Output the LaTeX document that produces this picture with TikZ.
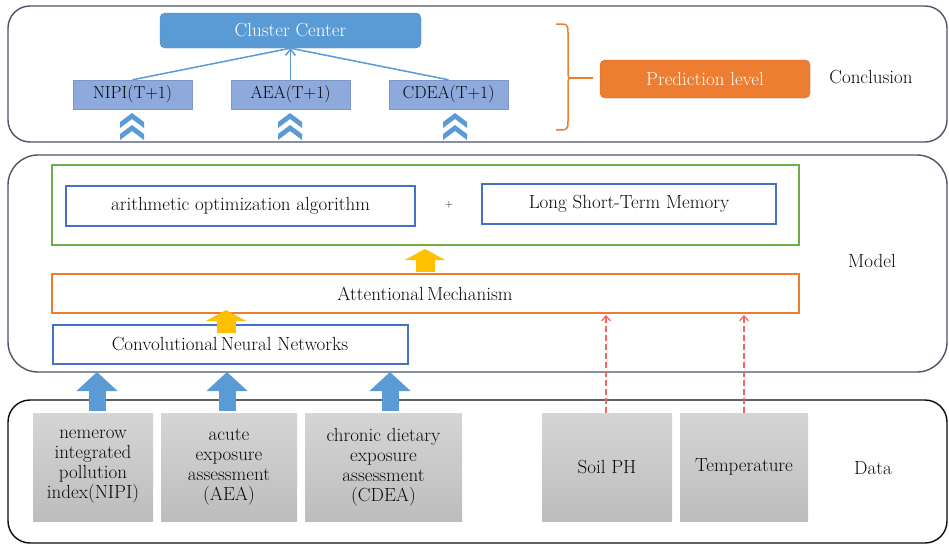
\documentclass[tikz,border=0pt]{standalone}
\usetikzlibrary{arrows.meta,calc}
\definecolor{cblue}{HTML}{5B9BD5}
\definecolor{lav}{HTML}{8EA9DB}
\definecolor{lavb}{HTML}{7F96C8}
\definecolor{corange}{HTML}{ED7D31}
\definecolor{cgreen}{HTML}{70AD47}
\definecolor{dblue}{HTML}{4472C4}
\definecolor{panel}{HTML}{4A5568}
\definecolor{cyellow}{HTML}{FFC000}
\definecolor{cred}{HTML}{F4655A}
\definecolor{txt}{HTML}{0A0A0A}
\begin{document}
\begin{tikzpicture}[x=1pt,y=-1pt,
  every node/.style={text=txt,font=\fontsize{19}{20}\selectfont},
  panelbox/.style={draw=panel,line width=1.4pt,rounded corners=22pt},
  predbox/.style={draw=lavb,fill=lav,minimum width=119pt,minimum height=29pt,inner sep=0pt,font=\fontsize{17.5}{20}\selectfont},
  bluebox/.style={draw=dblue,line width=2pt,fill=white,inner sep=0pt},
  databox/.style={top color=gray!33,bottom color=gray!52,draw=none,inner sep=0pt,align=center,minimum height=108pt},
  fatblue/.style={draw=cblue,line width=17pt,-{Triangle[width=40pt,length=19pt]}},
  fatyellow/.style={draw=cyellow,line width=19pt,-{Triangle[width=40pt,length=11pt]}},
  dasharrow/.style={draw=cred,line width=1.2pt,dash pattern=on 6pt off 3pt,-{Straight Barb[length=5pt,width=9pt]}},
  chev/.style={fill=cblue,draw=none}
]
\useasboundingbox (0,0) rectangle (949,546);
\fill[white] (0,0) rectangle (949,546);

% ---------- top panel ----------
\draw[panelbox] (8,6) rectangle (947,142);
\node[fill=cblue,draw=cblue!85!black,rounded corners=5pt,minimum width=261pt,minimum height=35pt,inner sep=0pt,text=white] (cc) at (290.5,30.5) {Cluster Center};
\node[predbox] (p1) at (132.5,94.5) {NIPI(T+1)};
\node[predbox] (p2) at (290.5,94.5) {AEA(T+1)};
\node[predbox] (p3) at (448.5,94.5) {CDEA(T+1)};
\draw[cblue,line width=1.5pt] (p1.north) -- (cc.south);
\draw[cblue,line width=1.5pt] (p3.north) -- (cc.south);
\draw[cblue,line width=1.5pt,-{Straight Barb[length=6pt,width=10pt]}] (p2.north) -- (cc.south);
\foreach \cx in {132,290,455}{
  \foreach \cy in {113,125}{
    \fill[chev] (\cx-12,\cy+9) -- (\cx,\cy) -- (\cx+12,\cy+9) -- (\cx+12,\cy+15) -- (\cx,\cy+6) -- (\cx-12,\cy+15) -- cycle;
  }
}
\draw[corange,line width=1.5pt] (556,24) .. controls (568,24) .. (568,34) -- (568,70) .. controls (568,78) .. (572,78) .. controls (568,78) .. (568,86) -- (568,120) .. controls (568,130) .. (556,130);
\coordinate (bt) at (570,78);
\coordinate (btend) at (593,78);
\draw[corange,line width=1.5pt] (bt) -- (btend);
\node[fill=corange,draw=corange!85!black,rounded corners=5pt,minimum width=210pt,minimum height=38pt,inner sep=0pt,text=white] (pl) at (705,79) {Prediction level};
\node (concl) at (871,77) {Conclusion};

% ---------- middle panel ----------
\draw[panelbox,rounded corners=30pt] (8,155) rectangle (947,372);
\node[draw=cgreen,line width=1.5pt,minimum width=747pt,minimum height=80pt,inner sep=0pt] (grn) at (425.5,205) {};
\node[bluebox,minimum width=349pt,minimum height=40pt] (aoa) at (240.5,206) {arithmetic optimization algorithm};
\node[font=\fontsize{11}{12}\selectfont] (plus) at (449,205) {+};
\node[bluebox,minimum width=294pt,minimum height=40pt] (lstm) at (629,204) {Long Short-Term Memory};
\node[draw=corange,line width=1.5pt,minimum width=747pt,minimum height=39pt,inner sep=0pt] (att) at (425.5,293.5) {};
\node (atttext) at (425,294) {Attentional\,Mechanism};
\node[bluebox,line width=1.5pt,minimum width=355pt,minimum height=39pt,anchor=west] (cnn) at (52,344.5) {};
\node (cnntext) at (230,344) {Convolutional\,Neural Networks};
\node (model) at (872,261) {Model};
\draw[fatyellow] (425,272) -- (425,249);
\draw[fatyellow] (226,333) -- (226,310);

% ---------- bottom panel ----------
\draw[draw=txt,line width=1.4pt,rounded corners=22pt] (8,400) rectangle (947,543);
\node[databox,minimum width=120pt] (d1) at (93,467) {nemerow\\integrated\\pollution\\index(NIPI)};
\node[databox,minimum width=136pt] (d2) at (229,467) {acute\\exposure\\assessment\\(AEA)};
\node[databox,minimum width=157pt] (d3) at (383.5,467) {chronic dietary\\exposure\\assessment\\(CDEA)};
\node[databox,minimum width=130pt] (d4) at (607,467) {Soil PH};
\node[databox,minimum width=128pt] (d5) at (744,467) {Temperature};
\node (data) at (873,468) {Data};

\coordinate (a1s) at (97,411); \coordinate (a1e) at (97,372);
\coordinate (a2s) at (227,411); \coordinate (a2e) at (227,372);
\coordinate (a3s) at (390,411); \coordinate (a3e) at (390,372);
\draw[fatblue] (a1s) -- (a1e);
\draw[fatblue] (a2s) -- (a2e);
\draw[fatblue] (a3s) -- (a3e);

\draw[dasharrow] (d4.north -| 606,0) -- (606,315);
\draw[dasharrow] (d5.north) -- (744,315);
\end{tikzpicture}
\end{document}
